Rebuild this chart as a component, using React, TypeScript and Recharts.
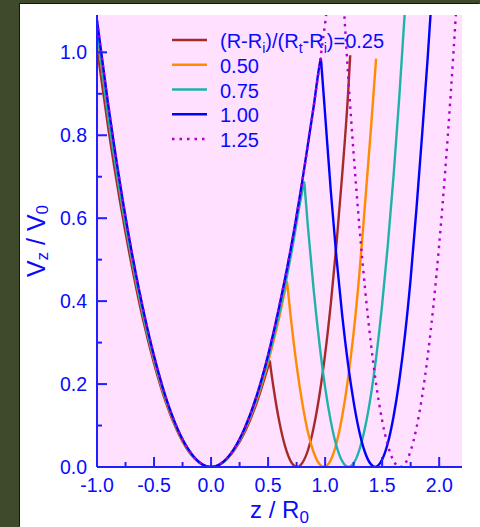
import { CartesianGrid, Legend, Line, LineChart, XAxis, YAxis } from "recharts";

type Pt = [number, number];

const curve025: Pt[] = [
  [-1.0, 1.01], [-0.9, 0.815], [-0.8, 0.643], [-0.7, 0.492], [-0.6, 0.36], [-0.5, 0.25], [-0.4, 0.159],
  [-0.3, 0.089], [-0.2, 0.039], [-0.1, 0.01], [0, 0], [0.1, 0.01], [0.2, 0.039], [0.3, 0.087], [0.4, 0.155],
  [0.5, 0.242], [0.512, 0.253], [0.515, 0.256], [0.52, 0.245], [0.55, 0.187], [0.6, 0.107], [0.65, 0.049],
  [0.7, 0.013], [0.754, 0], [0.8, 0.01], [0.85, 0.041], [0.9, 0.096], [0.95, 0.173], [1.0, 0.272],
  [1.05, 0.394], [1.1, 0.539], [1.15, 0.706], [1.2, 0.895], [1.22, 0.993],
];

const curve050: Pt[] = [
  [-1.0, 1.045], [-0.9, 0.845], [-0.8, 0.666], [-0.7, 0.509], [-0.6, 0.373], [-0.5, 0.258], [-0.4, 0.164],
  [-0.3, 0.092], [-0.2, 0.041], [-0.1, 0.01], [0, 0], [0.1, 0.01], [0.2, 0.041], [0.3, 0.092], [0.4, 0.162],
  [0.5, 0.253], [0.6, 0.364], [0.66, 0.44], [0.666, 0.447], [0.672, 0.432], [0.7, 0.358], [0.75, 0.245],
  [0.8, 0.154], [0.85, 0.083], [0.9, 0.035], [0.95, 0.007], [0.99, 0], [1.05, 0.017], [1.1, 0.058],
  [1.15, 0.123], [1.2, 0.212], [1.25, 0.324], [1.3, 0.465], [1.35, 0.635], [1.4, 0.81], [1.447, 0.985],
];

const curve075: Pt[] = [
  [-1.0, 1.06], [-0.9, 0.842], [-0.8, 0.666], [-0.7, 0.51], [-0.6, 0.374], [-0.5, 0.26], [-0.4, 0.166],
  [-0.3, 0.094], [-0.2, 0.042], [-0.1, 0.01], [0, 0], [0.1, 0.01], [0.2, 0.042], [0.3, 0.094], [0.4, 0.166],
  [0.5, 0.26], [0.6, 0.374], [0.7, 0.51], [0.8, 0.666], [0.812, 0.682], [0.818, 0.687], [0.825, 0.661],
  [0.85, 0.577], [0.9, 0.426], [0.95, 0.298], [1.0, 0.192], [1.05, 0.11], [1.1, 0.05], [1.15, 0.014],
  [1.205, 0], [1.25, 0.009], [1.3, 0.041], [1.35, 0.095], [1.4, 0.171], [1.45, 0.27], [1.5, 0.392],
  [1.55, 0.536], [1.6, 0.702], [1.65, 0.891], [1.7, 1.103], [1.75, 1.337],
];

const curve100: Pt[] = [
  [-1.0, 1.077], [-0.9, 0.87], [-0.8, 0.687], [-0.7, 0.525], [-0.6, 0.386], [-0.5, 0.268], [-0.4, 0.171],
  [-0.3, 0.096], [-0.2, 0.043], [-0.1, 0.011], [0, 0], [0.1, 0.011], [0.2, 0.043], [0.3, 0.097], [0.4, 0.172],
  [0.5, 0.27], [0.6, 0.39], [0.7, 0.528], [0.8, 0.69], [0.9, 0.87], [0.957, 0.978], [0.963, 0.985],
  [0.97, 0.96], [1.0, 0.85], [1.05, 0.665], [1.1, 0.503], [1.15, 0.365], [1.2, 0.25], [1.25, 0.157],
  [1.3, 0.085], [1.35, 0.035], [1.4, 0.007], [1.438, 0], [1.5, 0.018], [1.55, 0.058], [1.6, 0.122],
  [1.65, 0.208], [1.7, 0.318], [1.75, 0.455], [1.8, 0.62], [1.85, 0.8], [1.9, 0.99], [1.95, 1.2],
];

const curve125: Pt[] = [
  [-1.0, 1.077], [-0.9, 0.87], [-0.8, 0.687], [-0.7, 0.525], [-0.6, 0.386], [-0.5, 0.268], [-0.4, 0.171],
  [-0.3, 0.096], [-0.2, 0.043], [-0.1, 0.011], [0, 0], [0.1, 0.011], [0.2, 0.043], [0.3, 0.097], [0.4, 0.172],
  [0.5, 0.27], [0.6, 0.39], [0.7, 0.528], [0.8, 0.69], [0.9, 0.87], [1.0, 1.07], [1.05, 1.18], [1.114, 1.33],
  [1.15, 1.172], [1.2, 0.952], [1.25, 0.755], [1.3, 0.581], [1.35, 0.43], [1.4, 0.301], [1.45, 0.195],
  [1.5, 0.112], [1.55, 0.052], [1.6, 0.015], [1.657, 0], [1.7, 0.008], [1.75, 0.039], [1.8, 0.093],
  [1.85, 0.17], [1.9, 0.269], [1.95, 0.391], [2.0, 0.536], [2.05, 0.704], [2.1, 0.895], [2.15, 1.108],
  [2.2, 1.344],
];

const ratioLabels = ["0.25", "0.50", "0.75", "1.00", "1.25"];

const xMajorTicks = [-1, -0.5, 0, 0.5, 1, 1.5, 2];
const xMinorTicks = [-0.75, -0.25, 0.25, 0.75, 1.25, 1.75];
const yMajorTicks = [0, 0.2, 0.4, 0.6, 0.8, 1.0];
const yMinorTicks = [0.1, 0.3, 0.5, 0.7, 0.9];
const xDomain: [number, number] = [-1, 2.2];
const yDomain: [number, number] = [0, 1.09];

const BLUE = "#0a0aff";
const AXIS = "#2020ff";
const FONT = "'Liberation Sans', Arial, Helvetica, sans-serif";

const series = [
  { key: "r025", points: curve025, color: "#a62a2a", dash: undefined as string | undefined },
  { key: "r050", points: curve050, color: "#ff8c00", dash: undefined },
  { key: "r075", points: curve075, color: "#20b2aa", dash: undefined },
  { key: "r100", points: curve100, color: "#0000ff", dash: undefined },
  { key: "r125", points: curve125, color: "#b000d0", dash: "2.5 5" },
];

const toRows = (pts: Pt[]) => pts.map(([z, v]) => ({ z, v }));
const isMajor = (list: number[], v: number) => list.some((t) => Math.abs(t - v) < 1e-9);

// ticks point into the plot; labels sit outside (bottom / left only)
const XTick = (props: any) => {
  const { x, y, payload, side } = props;
  const major = isMajor(xMajorTicks, payload.value);
  const len = major ? 10 : 5;
  const dir = side === "top" ? 1 : -1;
  return (
    <g>
      <line x1={x} x2={x} y1={y} y2={y + dir * len} stroke={AXIS} strokeWidth={2} />
      {side !== "top" && major ? (
        <text x={x} y={y + 25} textAnchor="middle" fill={BLUE} fontSize={19.5} fontFamily={FONT}>
          {payload.value.toFixed(1)}
        </text>
      ) : null}
    </g>
  );
};

const YTick = (props: any) => {
  const { x, y, payload, side } = props;
  const major = isMajor(yMajorTicks, payload.value);
  const len = major ? 10 : 5;
  const dir = side === "right" ? -1 : 1;
  return (
    <g>
      <line x1={x} x2={x + dir * len} y1={y} y2={y} stroke={AXIS} strokeWidth={2} />
      {side !== "right" && major ? (
        <text x={x - 10} y={y + 7} textAnchor="end" fill={BLUE} fontSize={19.5} fontFamily={FONT}>
          {payload.value.toFixed(1)}
        </text>
      ) : null}
    </g>
  );
};

const XTitle = ({ viewBox }: any) => {
  const cx = viewBox ? viewBox.x + viewBox.width / 2 : 259.5;
  const top = viewBox ? viewBox.y : 463;
  return (
    <text x={cx} y={top + 51} textAnchor="middle" fill={BLUE} fontSize={24} fontFamily={FONT}>
      z / R
      <tspan fontSize={17} dy={5}>0</tspan>
    </text>
  );
};

const YTitle = ({ viewBox }: any) => {
  const cy = viewBox ? viewBox.y + viewBox.height / 2 : 237;
  const bx = 25;
  return (
    <text
      x={bx}
      y={cy}
      transform={`rotate(-90, ${bx}, ${cy})`}
      textAnchor="middle"
      fill={BLUE}
      fontSize={25}
      fontFamily={FONT}
    >
      V
      <tspan fontSize={17} dy={3}>z</tspan>
      <tspan dy={-3}> / V</tspan>
      <tspan fontSize={17} dy={3}>0</tspan>
    </text>
  );
};

const LegendBox = () => {
  const rowY = (i: number) => 16 + i * 24.75;
  return (
    <svg width={260} height={140} style={{ overflow: "visible" }}>
      {series.map((s, i) => (
        <g key={s.key}>
          <line
            x1={2}
            x2={37}
            y1={rowY(i)}
            y2={rowY(i)}
            stroke={s.color}
            strokeWidth={2.5}
            strokeDasharray={s.dash}
          />
          <text x={50} y={rowY(i) + 8} fill={BLUE} fontSize={20} fontFamily={FONT}>
            {i === 0 ? (
              <>
                (R-R<tspan fontSize={14} dy={5}>i</tspan>
                <tspan dy={-5}>)/(R</tspan>
                <tspan fontSize={14} dy={5}>t</tspan>
                <tspan dy={-5}>-R</tspan>
                <tspan fontSize={14} dy={5}>i</tspan>
                <tspan dy={-5}>)={ratioLabels[i]}</tspan>
              </>
            ) : (
              ratioLabels[i]
            )}
          </text>
        </g>
      ))}
    </svg>
  );
};

export default function App() {
  return (
    <div style={{ position: "absolute", left: 0, top: 0, width: 480, height: 527, background: "#3f4a2c", overflow: "hidden" }}>
      <div
        style={{
          position: "absolute",
          left: 20,
          top: 4,
          width: 460,
          height: 523,
          background: "#ffffff",
          boxShadow: "-1px -1px 0 #151515",
        }}
      >
        <LineChart width={460} height={523} margin={{ top: 11, right: 18, bottom: 0, left: 0 }}>
          <CartesianGrid horizontal={false} vertical={false} fill="#ffe0ff" fillOpacity={1} />
          <XAxis
            xAxisId="bottom"
            type="number"
            dataKey="z"
            domain={xDomain}
            allowDataOverflow
            ticks={[...xMajorTicks, ...xMinorTicks]}
            interval={0}
            height={60}
            tickSize={0}
            tickMargin={0}
            tickLine={false}
            axisLine={{ stroke: AXIS, strokeWidth: 2 }}
            tick={<XTick side="bottom" />}
            label={XTitle}
          />
          <XAxis
            xAxisId="top"
            orientation="top"
            type="number"
            dataKey="z"
            domain={xDomain}
            allowDataOverflow
            ticks={[...xMajorTicks, ...xMinorTicks]}
            interval={0}
            height={0}
            tickSize={0}
            tickMargin={0}
            tickLine={false}
            axisLine={{ stroke: AXIS, strokeWidth: 2 }}
            tick={<XTick side="top" />}
          />
          <YAxis
            yAxisId="left"
            type="number"
            domain={yDomain}
            allowDataOverflow
            ticks={[...yMajorTicks, ...yMinorTicks]}
            interval={0}
            width={77}
            tickSize={0}
            tickMargin={0}
            tickLine={false}
            axisLine={{ stroke: AXIS, strokeWidth: 2 }}
            tick={<YTick side="left" />}
            label={YTitle}
          />
          <YAxis
            yAxisId="right"
            orientation="right"
            type="number"
            domain={yDomain}
            allowDataOverflow
            ticks={[...yMajorTicks, ...yMinorTicks]}
            interval={0}
            width={0}
            tickSize={0}
            tickMargin={0}
            tickLine={false}
            axisLine={{ stroke: AXIS, strokeWidth: 2 }}
            tick={<YTick side="right" />}
          />
          {series.map((s) => (
            <Line
              key={s.key}
              name={s.key}
              data={toRows(s.points)}
              dataKey="v"
              xAxisId="bottom"
              yAxisId="left"
              type="monotone"
              stroke={s.color}
              strokeWidth={2.4}
              strokeDasharray={s.dash}
              dot={false}
              activeDot={false}
              isAnimationActive={false}
            />
          ))}
          <Legend
            layout="vertical"
            align="center"
            verticalAlign="middle"
            content={<LegendBox />}
            wrapperStyle={{ position: "absolute", left: 150, top: 20, width: 260, height: 140, margin: 0 }}
          />
        </LineChart>
      </div>
    </div>
  );
}
